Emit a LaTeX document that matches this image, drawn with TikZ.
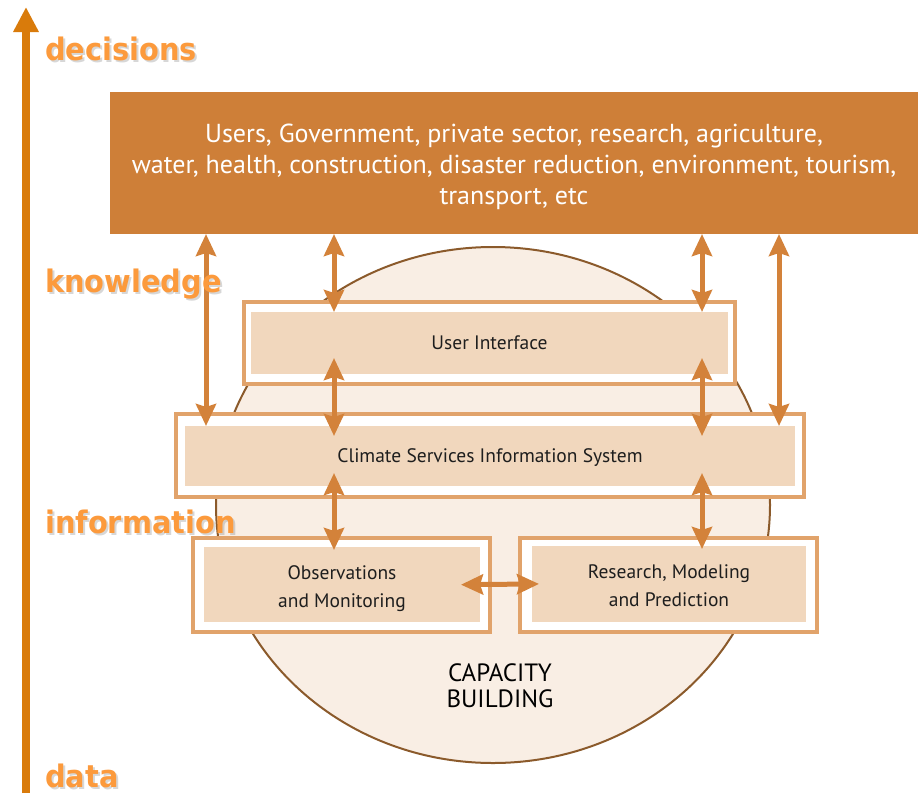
\documentclass[tikz,border=0pt]{standalone}
\usepackage{fontspec}
\setmainfont{PT Sans}
\newfontfamily\lblfont{DejaVu Sans}
\usetikzlibrary{arrows.meta}
\definecolor{topfill}{HTML}{CE7F38}
\definecolor{arrowc}{HTML}{D3823A}
\definecolor{framec}{HTML}{E1A36B}
\definecolor{innerfill}{HTML}{F1D7BD}
\definecolor{circfill}{HTML}{F9EEE4}
\definecolor{circline}{HTML}{8B5A2B}
\definecolor{axisc}{HTML}{D97B0B}
\definecolor{lblc}{HTML}{FC9A3C}
\definecolor{txtc}{HTML}{1E1E1E}
\tikzset{
  frame/.style={draw=framec, fill=white, line width=4.5pt, inner sep=0pt, outer sep=0pt},
  inner/.style={fill=innerfill, inner sep=0pt, outer sep=0pt, text=txtc, align=center,
     font=\fontsize{19.5}{27}\selectfont},
  dbl/.style={{Stealth[length=22pt,width=20pt,inset=3pt]}-{Stealth[length=22pt,width=20pt,inset=3pt]},
     line width=5pt, draw=arrowc},
  lbl/.style={anchor=base west, inner sep=0pt, text=lblc,
     font=\lblfont\bfseries\fontsize{31}{31}\selectfont},
  lblshadow/.style={anchor=base west, inner sep=0pt, text=black!45, opacity=0.35,
     font=\lblfont\bfseries\fontsize{31}{31}\selectfont}
}
\newcommand{\lblsq}[1]{\scalebox{0.93}[1]{#1}}
\newcommand{\lowerby}[2]{\raisebox{-#1}[\height][\depth]{#2}}
\begin{document}
\begin{tikzpicture}[x=1pt,y=-1pt]
\useasboundingbox (0,0) rectangle (921,793);
% capacity building circle
\draw[fill=circfill, draw=circline, line width=2pt] (493,505) ellipse [x radius=277, y radius=258];
\node[text=black, align=center, inner sep=0pt, font=\fontsize{25}{26}\selectfont] (cap) at (500,686) {CAPACITY\\BUILDING};
% frames
\node[frame, minimum width=491pt, minimum height=82pt] (uifr) at (489.5,343) {};
\node[frame, minimum width=628pt, minimum height=83pt] (csisfr) at (490,455.5) {};
\node[frame, minimum width=297pt, minimum height=94pt] (obsfr) at (341.5,585) {};
\node[frame, minimum width=297pt, minimum height=94pt] (resfr) at (668.5,585) {};
% inner boxes
\node[inner, minimum width=477pt, minimum height=62pt] (uiin) at (489.5,343) {User Interface};
\node[inner, minimum width=610pt, minimum height=60pt] (csisin) at (490,456) {\lowerby{2pt}{Climate Services Information System}};
\node[inner, minimum width=276pt, minimum height=75pt] (obsin) at (342,584.5) {\lowerby{3.5pt}{\begin{tabular}{@{}c@{}}Observations\\[1pt]and Monitoring\end{tabular}}};
\node[inner, minimum width=274pt, minimum height=76pt] (resin) at (669,584) {\lowerby{3.5pt}{\begin{tabular}{@{}c@{}}Research, Modeling\\[1pt]and Prediction\end{tabular}}};
% top box
\node[fill=topfill, inner sep=0pt, outer sep=0pt, minimum width=808pt, minimum height=142pt,
      text=white, align=center, font=\fontsize{26}{31}\selectfont] (users) at (514,163)
  {\lowerby{4pt}{\begin{tabular}{@{}c@{}}Users, Government, private sector, research, agriculture,\\water, health, construction, disaster reduction, environment, tourism,\\transport, etc\end{tabular}}};
% arrow columns
\coordinate (xa) at (206,0);
\coordinate (xb) at (334,0);
\coordinate (xc) at (702,0);
\coordinate (xd) at (779,0);
\draw[dbl] (users.south -| xa) -- (csisin.north -| xa);
\draw[dbl] (users.south -| xb) -- (uiin.north -| xb);
\draw[dbl, shorten <=-16pt, shorten >=-10pt] (uiin.south -| xb) -- (csisin.north -| xb);
\draw[dbl, shorten <=-13pt, shorten >=-3pt] (csisin.south -| xb) -- (obsin.north -| xb);
\draw[dbl] (users.south -| xc) -- (uiin.north -| xc);
\draw[dbl, shorten <=-16pt, shorten >=-10pt] (uiin.south -| xc) -- (csisin.north -| xc);
\draw[dbl, shorten <=-13pt, shorten >=-3pt] (csisin.south -| xc) -- (resin.north -| xc);
\draw[dbl] (users.south -| xd) -- (csisin.north -| xd);
\draw[dbl, shorten <=-19pt, shorten >=-7pt] (obsin.east) -- (resin.west);
% axis
\coordinate (axbot) at (26,793);
\coordinate (axtop) at (26,7);
\draw[axisc, line width=8pt, -{Triangle[length=25pt,width=24pt]}] (axbot) -- (axtop);
% labels
\node[lblshadow] (decs) at (47,62) {\lblsq{decisions}};
\node[lbl] (dec) at (45,60) {\lblsq{decisions}};
\node[lblshadow] (knos) at (47,294) {\lblsq{knowledge}};
\node[lbl] (kno) at (45,292) {\lblsq{knowledge}};
\node[lblshadow] (infs) at (47,535) {\lblsq{information}};
\node[lbl] (inf) at (45,533) {\lblsq{information}};
\node[lblshadow] (dats) at (47,789) {\lblsq{data}};
\node[lbl] (dat) at (45,787) {\lblsq{data}};
\end{tikzpicture}
\end{document}
